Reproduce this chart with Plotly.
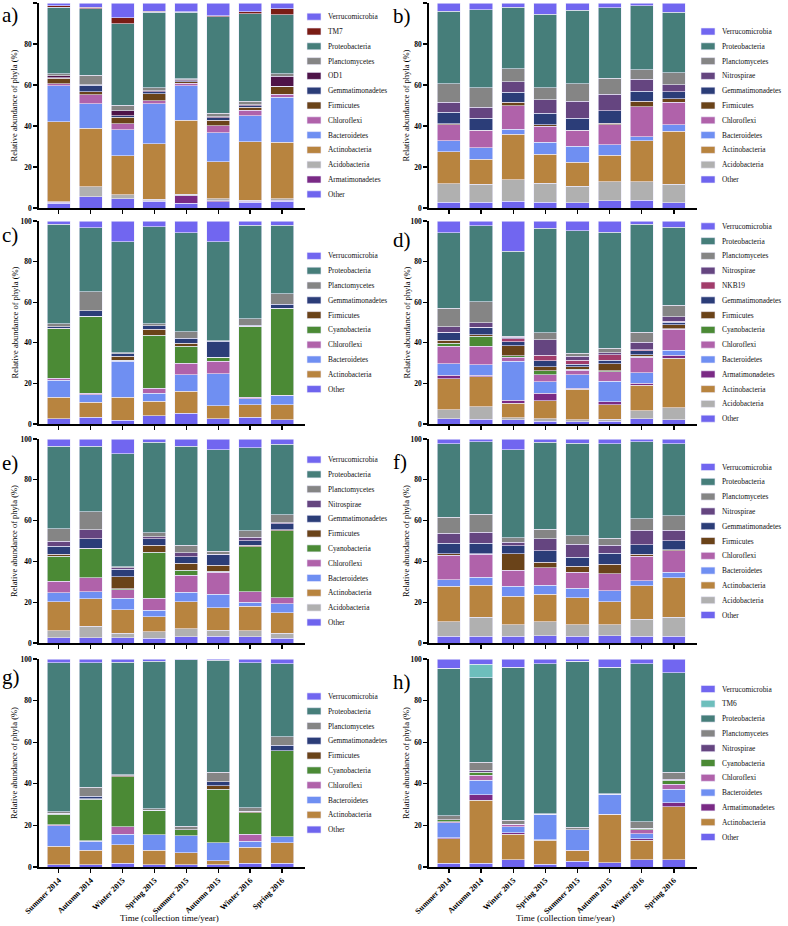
import plotly.graph_objects as go

seasons = ["Summer 2014", "Autumn 2014", "Winter 2015", "Spring 2015",
           "Summer 2015", "Autumn 2015", "Winter 2016", "Spring 2016"]

# ---- panel a ----
a_Other = [2.2, 5.4, 4.4, 3.4, 2.4, 3.1, 2.8, 3.4]
a_Armatimonadetes = [0.5, 0.2, 0.2, 0.1, 3.5, 0.5, 0.5, 0.5]
a_Acidobacteria = [0.3, 4.8, 1.8, 0.7, 0.9, 0.8, 0.6, 0.5]
a_Actinobacteria = [39.0, 28.4, 19.2, 27.1, 35.9, 18.2, 28.5, 27.7]
a_Bacteroidetes = [17.6, 12.0, 12.5, 19.5, 16.9, 14.2, 12.6, 22.0]
a_Chloroflexi = [1.0, 4.4, 2.9, 1.6, 1.3, 3.3, 2.6, 1.4]
a_Firmicutes = [2.6, 1.6, 3.3, 3.3, 0.8, 2.6, 1.6, 3.8]
a_Gemmatimonadetes = [0.3, 3.1, 0.7, 1.0, 0.3, 1.3, 0.6, 0.2]
a_OD1 = [1.0, 0.3, 2.4, 0.6, 0.5, 0.6, 0.5, 4.7]
a_Planctomycetes = [1.0, 4.6, 2.8, 1.3, 0.5, 1.7, 1.7, 1.3]
a_Proteobacteria = [32.5, 32.4, 39.7, 37.0, 32.6, 46.9, 42.8, 28.8]
a_TM7 = [0.7, 0.7, 2.9, 0.3, 0.2, 0.6, 1.0, 2.9]
a_Verrucomicrobia = [1.3, 2.1, 7.2, 4.1, 4.2, 6.2, 4.2, 2.8]

# ---- panel b ----
b_Other = [2.8, 2.8, 3.3, 2.8, 2.5, 3.6, 3.9, 2.5]
b_Acidobacteria = [9.0, 8.7, 10.6, 9.3, 8.2, 9.2, 8.9, 9.0]
b_Actinobacteria = [15.7, 12.3, 22.2, 14.1, 11.6, 12.9, 20.0, 25.9]
b_Bacteroidetes = [5.3, 5.7, 2.3, 5.8, 7.9, 5.1, 2.0, 3.3]
b_Chloroflexi = [7.9, 8.2, 11.6, 8.0, 7.5, 9.9, 14.7, 10.8]
b_Firmicutes = [0.4, 0.3, 1.5, 0.7, 0.2, 0.6, 2.5, 1.8]
b_Gemmatimonadetes = [5.5, 5.8, 4.9, 5.5, 6.0, 6.2, 5.0, 3.3]
b_Nitrospirae = [5.0, 5.4, 5.1, 6.6, 8.2, 7.9, 5.8, 3.6]
b_Planctomycetes = [9.1, 9.5, 6.4, 5.9, 8.4, 8.0, 4.7, 5.7]
b_Proteobacteria = [35.4, 38.0, 30.1, 35.7, 35.9, 34.3, 31.2, 29.7]
b_Verrucomicrobia = [3.9, 3.3, 2.0, 5.6, 3.6, 2.3, 1.3, 4.4]

# ---- panel c ----
c_Other = [2.6, 3.3, 1.8, 4.1, 5.4, 2.6, 3.3, 2.0]
c_Actinobacteria = [10.7, 7.4, 11.3, 7.0, 10.7, 6.4, 6.2, 7.5]
c_Bacteroidetes = [8.2, 3.6, 17.7, 4.1, 8.2, 15.8, 3.0, 4.4]
c_Chloroflexi = [1.0, 0.9, 0.3, 2.5, 5.7, 6.0, 0.6, 0.2]
c_Cyanobacteria = [24.4, 37.8, 0.3, 26.1, 8.2, 2.2, 34.8, 42.8]
c_Firmicutes = [0.3, 0.2, 1.9, 2.9, 1.6, 0.0, 0.2, 0.2]
c_Gemmatimonadetes = [0.8, 2.7, 1.3, 1.7, 2.5, 7.7, 0.6, 1.9]
c_Planctomycetes = [1.3, 9.2, 0.6, 0.9, 3.1, 0.2, 3.1, 5.1]
c_Proteobacteria = [49.2, 31.5, 54.5, 47.9, 48.9, 48.8, 46.1, 33.8]
c_Verrucomicrobia = [1.5, 3.4, 10.3, 2.8, 5.7, 10.3, 2.1, 2.1]

# ---- panel d ----
d_Other = [2.5, 2.3, 2.1, 1.3, 1.1, 1.3, 2.6, 2.0]
d_Acidobacteria = [4.4, 6.2, 1.0, 1.3, 0.9, 1.0, 4.0, 5.9]
d_Actinobacteria = [15.4, 14.8, 7.1, 8.9, 15.0, 7.2, 12.4, 24.6]
d_Armatimonadetes = [1.6, 0.6, 1.6, 3.6, 0.7, 1.5, 1.0, 1.3]
d_Bacteroidetes = [5.9, 5.3, 19.2, 5.6, 6.6, 10.0, 5.2, 2.6]
d_Chloroflexi = [8.6, 9.2, 1.8, 3.6, 2.3, 4.7, 7.6, 10.2]
d_Cyanobacteria = [1.3, 4.9, 0.8, 1.9, 0.4, 0.5, 0.6, 0.4]
d_Firmicutes = [1.6, 0.6, 4.9, 2.0, 1.2, 3.6, 0.7, 2.0]
d_Gemmatimonadetes = [3.6, 3.5, 2.0, 2.9, 1.3, 1.7, 2.0, 1.2]
d_NKB19 = [0.3, 0.2, 1.6, 2.7, 2.0, 2.6, 0.6, 0.5]
d_Nitrospirae = [2.7, 2.2, 0.7, 7.8, 1.9, 1.0, 3.6, 2.1]
d_Planctomycetes = [9.1, 10.5, 0.5, 3.3, 1.4, 2.1, 4.9, 5.6]
d_Proteobacteria = [37.1, 37.4, 41.9, 51.5, 60.3, 57.2, 53.2, 38.6]
d_Verrucomicrobia = [5.9, 2.3, 14.8, 3.6, 4.9, 5.6, 1.6, 3.0]

# ---- panel e ----
e_Other = [2.6, 2.6, 2.5, 2.3, 3.0, 3.4, 3.0, 2.3]
e_Acidobacteria = [3.3, 5.6, 2.4, 3.1, 3.9, 2.8, 3.1, 2.6]
e_Actinobacteria = [14.3, 13.4, 11.5, 7.4, 13.3, 11.2, 11.9, 9.9]
e_Bacteroidetes = [4.4, 3.6, 5.6, 3.3, 4.7, 6.5, 2.0, 4.5]
e_Chloroflexi = [5.6, 6.9, 4.2, 5.9, 8.4, 10.9, 5.2, 3.0]
e_Cyanobacteria = [12.4, 14.1, 0.3, 22.6, 2.4, 0.3, 22.0, 32.8]
e_Firmicutes = [1.0, 0.2, 6.0, 3.3, 3.3, 2.9, 0.8, 0.3]
e_Gemmatimonadetes = [3.9, 4.7, 3.7, 3.2, 3.3, 5.3, 2.2, 3.0]
e_Nitrospirae = [2.3, 4.3, 0.7, 1.0, 2.0, 0.2, 1.6, 0.6]
e_Planctomycetes = [6.3, 8.9, 0.6, 2.0, 3.7, 1.6, 3.3, 3.8]
e_Proteobacteria = [40.3, 32.1, 55.3, 44.3, 48.4, 49.7, 40.5, 34.6]
e_Verrucomicrobia = [3.6, 3.6, 7.2, 1.6, 3.6, 5.2, 4.4, 2.6]

# ---- panel f ----
f_Other = [3.4, 3.3, 3.4, 3.6, 3.3, 3.6, 3.4, 3.4]
f_Acidobacteria = [6.9, 9.3, 5.6, 6.7, 5.7, 5.4, 8.3, 9.2]
f_Actinobacteria = [17.4, 15.8, 13.8, 13.5, 13.2, 11.2, 16.4, 19.3]
f_Bacteroidetes = [3.3, 3.9, 5.1, 4.6, 4.6, 5.4, 2.3, 2.7]
f_Chloroflexi = [12.0, 11.2, 7.7, 8.5, 7.8, 8.4, 12.1, 10.6]
f_Firmicutes = [0.7, 0.2, 8.1, 2.7, 3.0, 4.6, 1.0, 0.6]
f_Gemmatimonadetes = [5.2, 5.2, 3.9, 5.6, 4.4, 5.4, 4.6, 4.4]
f_Nitrospirae = [5.0, 5.5, 1.8, 6.0, 6.4, 3.9, 7.2, 5.1]
f_Planctomycetes = [7.7, 8.8, 2.3, 4.5, 4.1, 3.5, 5.5, 7.1]
f_Proteobacteria = [36.1, 35.5, 43.1, 42.7, 45.5, 46.3, 37.9, 35.3]
f_Verrucomicrobia = [2.3, 1.3, 5.2, 1.6, 2.0, 2.3, 1.3, 2.3]

# ---- panel g ----
g_Other = [1.0, 1.1, 1.9, 1.0, 1.1, 1.0, 1.9, 1.9]
g_Actinobacteria = [9.0, 6.9, 8.7, 7.0, 5.8, 1.9, 7.7, 9.7]
g_Bacteroidetes = [9.9, 4.5, 5.1, 7.4, 8.2, 8.7, 2.9, 2.9]
g_Chloroflexi = [0.3, 0.2, 3.6, 0.0, 0.0, 0.0, 3.2, 0.0]
g_Cyanobacteria = [5.2, 19.9, 24.1, 11.9, 2.9, 25.8, 10.5, 41.4]
g_Firmicutes = [0.5, 0.2, 0.5, 0.0, 0.0, 1.6, 0.5, 0.0]
g_Gemmatimonadetes = [0.0, 1.2, 0.0, 0.0, 0.0, 2.1, 0.0, 2.6]
g_Planctomycetes = [0.6, 4.3, 0.4, 0.7, 1.6, 4.4, 1.9, 4.2]
g_Proteobacteria = [71.6, 59.8, 54.1, 71.0, 80.1, 54.0, 69.5, 34.9]
g_Verrucomicrobia = [1.9, 1.9, 1.6, 1.0, 0.3, 0.5, 1.9, 2.4]

# ---- panel h ----
h_Other = [1.9, 1.9, 3.5, 1.3, 2.7, 2.1, 3.5, 3.5]
h_Actinobacteria = [11.6, 30.2, 12.2, 11.6, 5.0, 23.3, 9.4, 25.4]
h_Armatimonadetes = [0.6, 2.6, 0.7, 0.2, 0.3, 0.0, 0.6, 1.9]
h_Bacteroidetes = [7.1, 7.1, 2.9, 12.0, 10.0, 9.3, 2.6, 6.5]
h_Chloroflexi = [0.5, 2.2, 1.3, 0.2, 0.0, 0.3, 1.9, 2.5]
h_Cyanobacteria = [1.0, 1.6, 0.0, 0.0, 0.0, 0.0, 0.6, 2.0]
h_Nitrospirae = [0.0, 1.0, 0.0, 0.0, 0.0, 0.0, 0.0, 0.3]
h_Planctomycetes = [2.0, 3.8, 1.9, 0.3, 1.0, 0.3, 3.2, 3.5]
h_Proteobacteria = [70.8, 40.6, 73.5, 72.0, 79.9, 60.7, 75.9, 47.9]
h_TM6 = [0.0, 6.4, 0.0, 0.0, 0.0, 0.0, 0.0, 0.0]
h_Verrucomicrobia = [4.5, 2.6, 4.0, 2.4, 1.1, 4.0, 2.3, 6.5]

COLORS = {
    "Verrucomicrobia": "#7166f0",
    "TM7": "#7a1c14",
    "TM6": "#6dbebc",
    "Proteobacteria": "#467e7a",
    "Planctomycetes": "#858585",
    "OD1": "#4e1348",
    "Nitrospirae": "#654580",
    "NKB19": "#a13c6b",
    "Gemmatimonadetes": "#2b3d78",
    "Firmicutes": "#6a4319",
    "Cyanobacteria": "#4b8a35",
    "Chloroflexi": "#b062aa",
    "Bacteroidetes": "#6f8ff2",
    "Armatimonadetes": "#7a2a85",
    "Actinobacteria": "#b8843f",
    "Acidobacteria": "#b0b0b0",
    "Other": "#6e64ee",
}

# stacking order bottom -> top
panels = [
    ("a)", [("Other", a_Other), ("Armatimonadetes", a_Armatimonadetes), ("Acidobacteria", a_Acidobacteria),
            ("Actinobacteria", a_Actinobacteria), ("Bacteroidetes", a_Bacteroidetes), ("Chloroflexi", a_Chloroflexi),
            ("Firmicutes", a_Firmicutes), ("Gemmatimonadetes", a_Gemmatimonadetes), ("OD1", a_OD1),
            ("Planctomycetes", a_Planctomycetes), ("Proteobacteria", a_Proteobacteria), ("TM7", a_TM7),
            ("Verrucomicrobia", a_Verrucomicrobia)]),
    ("b)", [("Other", b_Other), ("Acidobacteria", b_Acidobacteria), ("Actinobacteria", b_Actinobacteria),
            ("Bacteroidetes", b_Bacteroidetes), ("Chloroflexi", b_Chloroflexi), ("Firmicutes", b_Firmicutes),
            ("Gemmatimonadetes", b_Gemmatimonadetes), ("Nitrospirae", b_Nitrospirae),
            ("Planctomycetes", b_Planctomycetes), ("Proteobacteria", b_Proteobacteria),
            ("Verrucomicrobia", b_Verrucomicrobia)]),
    ("c)", [("Other", c_Other), ("Actinobacteria", c_Actinobacteria), ("Bacteroidetes", c_Bacteroidetes),
            ("Chloroflexi", c_Chloroflexi), ("Cyanobacteria", c_Cyanobacteria), ("Firmicutes", c_Firmicutes),
            ("Gemmatimonadetes", c_Gemmatimonadetes), ("Planctomycetes", c_Planctomycetes),
            ("Proteobacteria", c_Proteobacteria), ("Verrucomicrobia", c_Verrucomicrobia)]),
    ("d)", [("Other", d_Other), ("Acidobacteria", d_Acidobacteria), ("Actinobacteria", d_Actinobacteria),
            ("Armatimonadetes", d_Armatimonadetes), ("Bacteroidetes", d_Bacteroidetes), ("Chloroflexi", d_Chloroflexi),
            ("Cyanobacteria", d_Cyanobacteria), ("Firmicutes", d_Firmicutes), ("Gemmatimonadetes", d_Gemmatimonadetes),
            ("NKB19", d_NKB19), ("Nitrospirae", d_Nitrospirae), ("Planctomycetes", d_Planctomycetes),
            ("Proteobacteria", d_Proteobacteria), ("Verrucomicrobia", d_Verrucomicrobia)]),
    ("e)", [("Other", e_Other), ("Acidobacteria", e_Acidobacteria), ("Actinobacteria", e_Actinobacteria),
            ("Bacteroidetes", e_Bacteroidetes), ("Chloroflexi", e_Chloroflexi), ("Cyanobacteria", e_Cyanobacteria),
            ("Firmicutes", e_Firmicutes), ("Gemmatimonadetes", e_Gemmatimonadetes), ("Nitrospirae", e_Nitrospirae),
            ("Planctomycetes", e_Planctomycetes), ("Proteobacteria", e_Proteobacteria),
            ("Verrucomicrobia", e_Verrucomicrobia)]),
    ("f)", [("Other", f_Other), ("Acidobacteria", f_Acidobacteria), ("Actinobacteria", f_Actinobacteria),
            ("Bacteroidetes", f_Bacteroidetes), ("Chloroflexi", f_Chloroflexi), ("Firmicutes", f_Firmicutes),
            ("Gemmatimonadetes", f_Gemmatimonadetes), ("Nitrospirae", f_Nitrospirae),
            ("Planctomycetes", f_Planctomycetes), ("Proteobacteria", f_Proteobacteria),
            ("Verrucomicrobia", f_Verrucomicrobia)]),
    ("g)", [("Other", g_Other), ("Actinobacteria", g_Actinobacteria), ("Bacteroidetes", g_Bacteroidetes),
            ("Chloroflexi", g_Chloroflexi), ("Cyanobacteria", g_Cyanobacteria), ("Firmicutes", g_Firmicutes),
            ("Gemmatimonadetes", g_Gemmatimonadetes), ("Planctomycetes", g_Planctomycetes),
            ("Proteobacteria", g_Proteobacteria), ("Verrucomicrobia", g_Verrucomicrobia)]),
    ("h)", [("Other", h_Other), ("Actinobacteria", h_Actinobacteria), ("Armatimonadetes", h_Armatimonadetes),
            ("Bacteroidetes", h_Bacteroidetes), ("Chloroflexi", h_Chloroflexi), ("Cyanobacteria", h_Cyanobacteria),
            ("Nitrospirae", h_Nitrospirae), ("Planctomycetes", h_Planctomycetes),
            ("Proteobacteria", h_Proteobacteria), ("TM6", h_TM6), ("Verrucomicrobia", h_Verrucomicrobia)]),
]

W, H = 788, 926
COLS = [(39, 305), (429, 697)]
ROWS = [(3, 208), (221, 424), (439, 643), (659, 867)]
LEG_X = [307, 701]
LETTER_X = [0, 391]
LETTER_Y = [15, 16, 235, 240, 463, 462, 677, 682]
YTITLE_X = [14, 406]
XTITLE_X = [169, 565]
SERIF = "Liberation Serif"

fig = go.Figure()
shapes = []
annotations = []


def px(x):
    return x / W


def py(y):
    return 1 - y / H


for i, (letter, series) in enumerate(panels):
    r, c = divmod(i, 2)
    xa = "x" if i == 0 else f"x{i+1}"
    ya = "y" if i == 0 else f"y{i+1}"
    for name, vals in series:
        fig.add_trace(go.Bar(
            x=seasons, y=vals, name=name, xaxis=xa, yaxis=ya, width=0.72,
            marker=dict(color=COLORS[name], line=dict(color="#ecebfb", width=0.6)),
            showlegend=False,
        ))
    x0, x1 = COLS[c]
    y0, y1 = ROWS[r]
    bottom = (r == 3)
    fig.layout[f"xaxis{'' if i == 0 else i+1}"] = dict(
        domain=[px(x0), px(x1)], anchor=ya, range=[-0.62, 7.72],
        type="category", showline=True, linecolor="black", linewidth=1.6,
        ticks="outside", ticklen=4, tickwidth=1.3, tickcolor="black",
        showticklabels=bottom, tickangle=-45,
        tickfont=dict(family=SERIF, size=8, color="black", weight="bold"),
        showgrid=False, zeroline=False, fixedrange=True,
    )
    fig.layout[f"yaxis{'' if i == 0 else i+1}"] = dict(
        domain=[py(y1), py(y0)], anchor=xa, range=[0, 100],
        tickvals=[0, 20, 40, 60, 80, 100], showline=True, linecolor="black", linewidth=1.8,
        ticks="outside", ticklen=4, tickwidth=1.3, tickcolor="black",
        tickfont=dict(family=SERIF, size=7.5, color="black", weight="bold"),
        showgrid=False, zeroline=False, fixedrange=True,
    )
    # y title
    annotations.append(dict(
        x=px(YTITLE_X[c]), y=py((y0 + y1) / 2), xref="paper", yref="paper",
        text="Relative abundance of phyla (%)", textangle=-90, showarrow=False,
        xanchor="center", yanchor="middle", font=dict(family=SERIF, size=8.5, color="black"),
    ))
    # panel letter
    annotations.append(dict(
        x=px(LETTER_X[c]), y=py(LETTER_Y[i]), xref="paper", yref="paper",
        text=letter, showarrow=False, xanchor="left", yanchor="middle",
        font=dict(family=SERIF, size=21, color="black"),
    ))
    # manual legend (top entry = top of stack)
    entries = [name for name, _ in series][::-1]
    n = len(entries)
    step = 14.8
    yc0 = (y0 + y1) / 2 - (n - 1) / 2 * step
    lx = LEG_X[c]
    for k, name in enumerate(entries):
        yc = yc0 + k * step
        shapes.append(dict(
            type="rect", xref="paper", yref="paper",
            x0=px(lx), x1=px(lx + 14), y0=py(yc + 3.5), y1=py(yc - 3.5),
            fillcolor=COLORS[name], line=dict(color="#ecebfb", width=0.6),
        ))
        annotations.append(dict(
            x=px(lx + 19), y=py(yc), xref="paper", yref="paper", text=name,
            showarrow=False, xanchor="left", yanchor="middle",
            font=dict(family=SERIF, size=7.4, color="#111111"),
        ))
    if bottom:
        annotations.append(dict(
            x=px(XTITLE_X[c]), y=py(918), xref="paper", yref="paper",
            text="Time (collection time/year)", showarrow=False,
            xanchor="center", yanchor="middle", font=dict(family=SERIF, size=9, color="black"),
        ))

fig.update_layout(
    width=W, height=H, barmode="stack", bargap=0.28,
    margin=dict(l=0, r=0, t=0, b=0, autoexpand=False),
    paper_bgcolor="white", plot_bgcolor="white",
    shapes=shapes, annotations=annotations, showlegend=False,
)

fig.write_html(
    "out.html",
    config={"displayModeBar": False, "staticPlot": True},
    post_script="document.body.style.margin='0px';document.body.style.padding='0px';"
                "document.documentElement.style.overflow='hidden';",
)
